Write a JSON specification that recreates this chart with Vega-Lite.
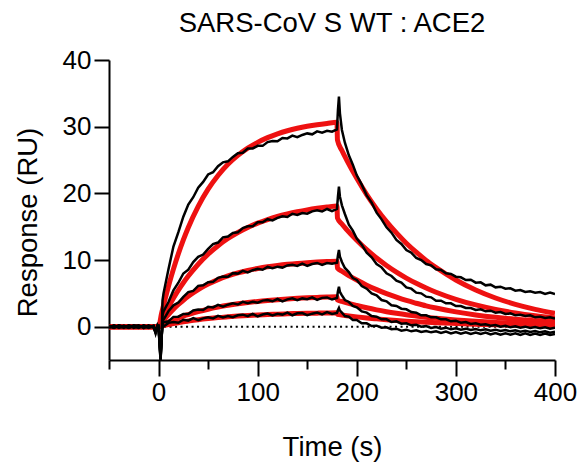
{
"$schema":"https://vega.github.io/schema/vega-lite/v6.json",
"width":446,"height":300,
"autosize":"none",
"padding":{"left":109,"top":60,"right":30,"bottom":103},
"title":{"text":"SARS-CoV S WT : ACE2","fontSize":27.5,"fontWeight":"normal","color":"black","anchor":"middle","baseline":"alphabetic","offset":14,"dy":26,"frame":"group","font":"Liberation Sans"},
"datasets":{
"rd":[
{"s":1,"t":-50,"v":0},{"s":1,"t":0,"v":0},{"s":1,"t":3,"v":1.96},{"s":1,"t":6,"v":3.79},{"s":1,"t":10,"v":6.06},{"s":1,"t":15,"v":8.63},{"s":1,"t":20,"v":10.94},{"s":1,"t":25,"v":13.01},{"s":1,"t":30,"v":14.88},{"s":1,"t":40,"v":18.05},{"s":1,"t":50,"v":20.62},{"s":1,"t":60,"v":22.68},{"s":1,"t":70,"v":24.35},{"s":1,"t":80,"v":25.69},{"s":1,"t":90,"v":26.78},{"s":1,"t":100,"v":27.65},{"s":1,"t":110,"v":28.36},{"s":1,"t":120,"v":28.93},{"s":1,"t":130,"v":29.39},{"s":1,"t":140,"v":29.76},{"s":1,"t":150,"v":30.06},{"s":1,"t":160,"v":30.30},{"s":1,"t":170,"v":30.49},{"s":1,"t":180,"v":30.65},
{"s":1,"t":180.5,"v":28.0},{"s":1,"t":185,"v":26.43},{"s":1,"t":190,"v":24.95},{"s":1,"t":200,"v":22.26},{"s":1,"t":210,"v":19.82},{"s":1,"t":220,"v":17.67},{"s":1,"t":230,"v":15.76},{"s":1,"t":240,"v":14.06},{"s":1,"t":250,"v":12.52},{"s":1,"t":260,"v":11.17},{"s":1,"t":270,"v":9.94},{"s":1,"t":280,"v":8.88},{"s":1,"t":300,"v":7.0},{"s":1,"t":320,"v":5.5},{"s":1,"t":340,"v":4.3},{"s":1,"t":360,"v":3.35},{"s":1,"t":380,"v":2.6},{"s":1,"t":400,"v":2.0},
{"s":2,"t":-50,"v":0},{"s":2,"t":0,"v":0},{"s":2,"t":3,"v":0.95},{"s":2,"t":6,"v":1.84},{"s":2,"t":10,"v":2.97},{"s":2,"t":15,"v":4.28},{"s":2,"t":20,"v":5.48},{"s":2,"t":25,"v":6.58},{"s":2,"t":30,"v":7.59},{"s":2,"t":40,"v":9.37},{"s":2,"t":50,"v":10.88},{"s":2,"t":60,"v":12.15},{"s":2,"t":70,"v":13.22},{"s":2,"t":80,"v":14.12},{"s":2,"t":90,"v":14.88},{"s":2,"t":100,"v":15.53},{"s":2,"t":110,"v":16.07},{"s":2,"t":120,"v":16.53},{"s":2,"t":130,"v":16.91},{"s":2,"t":140,"v":17.24},{"s":2,"t":150,"v":17.52},{"s":2,"t":160,"v":17.75},{"s":2,"t":170,"v":17.94},{"s":2,"t":180,"v":18.11},
{"s":2,"t":180.5,"v":16.3},{"s":2,"t":185,"v":15.39},{"s":2,"t":190,"v":14.52},{"s":2,"t":200,"v":12.96},{"s":2,"t":210,"v":11.54},{"s":2,"t":220,"v":10.29},{"s":2,"t":230,"v":9.18},{"s":2,"t":240,"v":8.18},{"s":2,"t":250,"v":7.29},{"s":2,"t":260,"v":6.50},{"s":2,"t":270,"v":5.79},{"s":2,"t":280,"v":5.17},{"s":2,"t":300,"v":4.11},{"s":2,"t":320,"v":3.26},{"s":2,"t":340,"v":2.59},{"s":2,"t":360,"v":2.05},{"s":2,"t":380,"v":1.63},{"s":2,"t":400,"v":1.30},
{"s":3,"t":-50,"v":0},{"s":3,"t":0,"v":0},{"s":3,"t":3,"v":0.59},{"s":3,"t":6,"v":1.14},{"s":3,"t":10,"v":1.83},{"s":3,"t":15,"v":2.62},{"s":3,"t":20,"v":3.33},{"s":3,"t":25,"v":3.97},{"s":3,"t":30,"v":4.56},{"s":3,"t":40,"v":5.56},{"s":3,"t":50,"v":6.38},{"s":3,"t":60,"v":7.06},{"s":3,"t":70,"v":7.61},{"s":3,"t":80,"v":8.06},{"s":3,"t":90,"v":8.43},{"s":3,"t":100,"v":8.73},{"s":3,"t":110,"v":8.98},{"s":3,"t":120,"v":9.18},{"s":3,"t":130,"v":9.35},{"s":3,"t":140,"v":9.49},{"s":3,"t":150,"v":9.60},{"s":3,"t":160,"v":9.69},{"s":3,"t":170,"v":9.76},{"s":3,"t":180,"v":9.82},
{"s":3,"t":180.5,"v":8.8},{"s":3,"t":185,"v":8.31},{"s":3,"t":190,"v":7.84},{"s":3,"t":200,"v":7.00},{"s":3,"t":210,"v":6.23},{"s":3,"t":220,"v":5.55},{"s":3,"t":230,"v":4.95},{"s":3,"t":240,"v":4.42},{"s":3,"t":250,"v":3.93},{"s":3,"t":260,"v":3.51},{"s":3,"t":270,"v":3.12},{"s":3,"t":280,"v":2.79},{"s":3,"t":300,"v":2.22},{"s":3,"t":320,"v":1.76},{"s":3,"t":340,"v":1.40},{"s":3,"t":360,"v":1.11},{"s":3,"t":380,"v":0.88},{"s":3,"t":400,"v":0.70},
{"s":4,"t":-50,"v":0},{"s":4,"t":0,"v":0},{"s":4,"t":3,"v":0.22},{"s":4,"t":6,"v":0.44},{"s":4,"t":10,"v":0.70},{"s":4,"t":15,"v":1.01},{"s":4,"t":20,"v":1.30},{"s":4,"t":25,"v":1.57},{"s":4,"t":30,"v":1.81},{"s":4,"t":40,"v":2.25},{"s":4,"t":50,"v":2.62},{"s":4,"t":60,"v":2.93},{"s":4,"t":70,"v":3.20},{"s":4,"t":80,"v":3.43},{"s":4,"t":90,"v":3.62},{"s":4,"t":100,"v":3.79},{"s":4,"t":110,"v":3.93},{"s":4,"t":120,"v":4.05},{"s":4,"t":130,"v":4.16},{"s":4,"t":140,"v":4.25},{"s":4,"t":150,"v":4.32},{"s":4,"t":160,"v":4.38},{"s":4,"t":170,"v":4.44},{"s":4,"t":180,"v":4.48},
{"s":4,"t":180.5,"v":4.0},{"s":4,"t":185,"v":3.78},{"s":4,"t":190,"v":3.56},{"s":4,"t":200,"v":3.18},{"s":4,"t":210,"v":2.83},{"s":4,"t":220,"v":2.52},{"s":4,"t":230,"v":2.25},{"s":4,"t":240,"v":2.01},{"s":4,"t":250,"v":1.79},{"s":4,"t":260,"v":1.60},{"s":4,"t":270,"v":1.42},{"s":4,"t":280,"v":1.27},{"s":4,"t":300,"v":1.01},{"s":4,"t":320,"v":0.80},{"s":4,"t":340,"v":0.64},{"s":4,"t":360,"v":0.50},{"s":4,"t":380,"v":0.40},{"s":4,"t":400,"v":0.32},
{"s":5,"t":-50,"v":0},{"s":5,"t":0,"v":0},{"s":5,"t":3,"v":0.10},{"s":5,"t":6,"v":0.20},{"s":5,"t":10,"v":0.32},{"s":5,"t":15,"v":0.47},{"s":5,"t":20,"v":0.60},{"s":5,"t":25,"v":0.73},{"s":5,"t":30,"v":0.84},{"s":5,"t":40,"v":1.04},{"s":5,"t":50,"v":1.21},{"s":5,"t":60,"v":1.36},{"s":5,"t":70,"v":1.48},{"s":5,"t":80,"v":1.59},{"s":5,"t":90,"v":1.68},{"s":5,"t":100,"v":1.75},{"s":5,"t":110,"v":1.82},{"s":5,"t":120,"v":1.88},{"s":5,"t":130,"v":1.93},{"s":5,"t":140,"v":1.97},{"s":5,"t":150,"v":2.00},{"s":5,"t":160,"v":2.03},{"s":5,"t":170,"v":2.06},{"s":5,"t":180,"v":2.08},
{"s":5,"t":180.5,"v":1.85},{"s":5,"t":185,"v":1.75},{"s":5,"t":190,"v":1.65},{"s":5,"t":200,"v":1.47},{"s":5,"t":210,"v":1.31},{"s":5,"t":220,"v":1.17},{"s":5,"t":230,"v":1.04},{"s":5,"t":240,"v":0.93},{"s":5,"t":250,"v":0.83},{"s":5,"t":260,"v":0.74},{"s":5,"t":270,"v":0.66},{"s":5,"t":280,"v":0.59},{"s":5,"t":300,"v":0.47},{"s":5,"t":320,"v":0.37},{"s":5,"t":340,"v":0.29},{"s":5,"t":360,"v":0.23},{"s":5,"t":380,"v":0.19},{"s":5,"t":400,"v":0.15}
],
"bk":[
{"s":1,"t":-50,"v":0.1},{"s":1,"t":-45,"v":-0.15},{"s":1,"t":-40,"v":0.2},{"s":1,"t":-35,"v":-0.05},{"s":1,"t":-30,"v":0.15},{"s":1,"t":-25,"v":-0.2},{"s":1,"t":-20,"v":0.1},{"s":1,"t":-15,"v":-0.1},{"s":1,"t":-10,"v":0.2},{"s":1,"t":-5,"v":-0.1},{"s":1,"t":-3,"v":-0.9},{"s":1,"t":-1,"v":0.2},{"s":1,"t":0,"v":0},{"s":1,"t":1,"v":-2.5},{"s":1,"t":2,"v":-5},{"s":1,"t":3,"v":-2.5},{"s":1,"t":4,"v":3.95},
{"s":1,"t":5,"v":4.97},{"s":1,"t":10,"v":8.6},{"s":1,"t":15,"v":12.03},{"s":1,"t":20,"v":14.17},{"s":1,"t":25,"v":16.49},{"s":1,"t":30,"v":18.32},{"s":1,"t":35,"v":19.42},{"s":1,"t":40,"v":20.86},{"s":1,"t":45,"v":21.71},{"s":1,"t":50,"v":22.83},{"s":1,"t":55,"v":23.16},{"s":1,"t":60,"v":24.06},{"s":1,"t":65,"v":24.65},{"s":1,"t":70,"v":24.8},{"s":1,"t":75,"v":25.46},{"s":1,"t":80,"v":26.01},{"s":1,"t":85,"v":26.08},{"s":1,"t":90,"v":26.72},{"s":1,"t":95,"v":26.73},{"s":1,"t":100,"v":27.12},{"s":1,"t":105,"v":27.12},{"s":1,"t":110,"v":27.69},{"s":1,"t":115,"v":27.85},{"s":1,"t":120,"v":27.8},{"s":1,"t":125,"v":28.31},{"s":1,"t":130,"v":28.24},{"s":1,"t":135,"v":28.65},{"s":1,"t":140,"v":28.42},{"s":1,"t":145,"v":28.76},{"s":1,"t":150,"v":28.99},{"s":1,"t":155,"v":28.85},{"s":1,"t":160,"v":29.29},{"s":1,"t":165,"v":29.11},{"s":1,"t":170,"v":29.37},{"s":1,"t":175,"v":29.24},{"s":1,"t":180,"v":29.6},
{"s":1,"t":181,"v":32.5},{"s":1,"t":182,"v":34.5},{"s":1,"t":183,"v":32.0},{"s":1,"t":185,"v":29.5},{"s":1,"t":188,"v":27.6},{"s":1,"t":192,"v":25.7},{"s":1,"t":196,"v":24.3},{"s":1,"t":200,"v":22.7},{"s":1,"t":205,"v":21.3},{"s":1,"t":210,"v":19.7},{"s":1,"t":215,"v":18.6},{"s":1,"t":220,"v":17.1},{"s":1,"t":225,"v":16.1},{"s":1,"t":230,"v":14.9},{"s":1,"t":235,"v":14.1},{"s":1,"t":240,"v":13.0},{"s":1,"t":245,"v":12.4},{"s":1,"t":250,"v":11.5},{"s":1,"t":255,"v":11.1},{"s":1,"t":260,"v":10.3},{"s":1,"t":265,"v":10.0},{"s":1,"t":270,"v":9.4},{"s":1,"t":275,"v":9.2},{"s":1,"t":280,"v":8.6},{"s":1,"t":285,"v":8.5},{"s":1,"t":290,"v":8.0},{"s":1,"t":295,"v":7.9},{"s":1,"t":300,"v":7.5},{"s":1,"t":305,"v":7.4},{"s":1,"t":310,"v":7.0},{"s":1,"t":315,"v":7.05},{"s":1,"t":320,"v":6.6},{"s":1,"t":325,"v":6.65},{"s":1,"t":330,"v":6.2},{"s":1,"t":335,"v":6.3},{"s":1,"t":340,"v":5.9},{"s":1,"t":345,"v":6.0},{"s":1,"t":350,"v":5.7},{"s":1,"t":355,"v":5.75},{"s":1,"t":360,"v":5.4},{"s":1,"t":365,"v":5.5},{"s":1,"t":370,"v":5.2},{"s":1,"t":375,"v":5.3},{"s":1,"t":380,"v":5.1},{"s":1,"t":385,"v":5.2},{"s":1,"t":390,"v":4.9},{"s":1,"t":395,"v":5.1},{"s":1,"t":400,"v":4.9},
{"s":2,"t":-50,"v":-0.1},{"s":2,"t":-45,"v":0.15},{"s":2,"t":-40,"v":-0.2},{"s":2,"t":-35,"v":0.1},{"s":2,"t":-30,"v":-0.1},{"s":2,"t":-25,"v":0.2},{"s":2,"t":-20,"v":-0.15},{"s":2,"t":-15,"v":0.15},{"s":2,"t":-10,"v":-0.05},{"s":2,"t":-5,"v":0.1},{"s":2,"t":-3,"v":-0.7},{"s":2,"t":-1,"v":0.1},{"s":2,"t":0,"v":0.1},{"s":2,"t":1,"v":-2.2},{"s":2,"t":2,"v":-4.8},{"s":2,"t":3,"v":-2.2},{"s":2,"t":4,"v":1.7},
{"s":2,"t":5,"v":2.27},{"s":2,"t":10,"v":3.7},{"s":2,"t":15,"v":5.44},{"s":2,"t":20,"v":6.59},{"s":2,"t":25,"v":7.98},{"s":2,"t":30,"v":8.55},{"s":2,"t":35,"v":9.68},{"s":2,"t":40,"v":10.47},{"s":2,"t":45,"v":10.82},{"s":2,"t":50,"v":11.67},{"s":2,"t":55,"v":12.38},{"s":2,"t":60,"v":12.62},{"s":2,"t":65,"v":13.4},{"s":2,"t":70,"v":13.52},{"s":2,"t":75,"v":14.04},{"s":2,"t":80,"v":14.15},{"s":2,"t":85,"v":14.8},{"s":2,"t":90,"v":15.05},{"s":2,"t":95,"v":15.07},{"s":2,"t":100,"v":15.66},{"s":2,"t":105,"v":15.65},{"s":2,"t":110,"v":16.12},{"s":2,"t":115,"v":15.94},{"s":2,"t":120,"v":16.31},{"s":2,"t":125,"v":16.57},{"s":2,"t":130,"v":16.46},{"s":2,"t":135,"v":16.93},{"s":2,"t":140,"v":16.77},{"s":2,"t":145,"v":17.04},{"s":2,"t":150,"v":16.94},{"s":2,"t":155,"v":17.3},{"s":2,"t":160,"v":17.45},{"s":2,"t":165,"v":17.27},{"s":2,"t":170,"v":17.65},{"s":2,"t":175,"v":17.33},{"s":2,"t":180,"v":17.65},
{"s":2,"t":181,"v":19.5},{"s":2,"t":182,"v":21.0},{"s":2,"t":183,"v":19.5},{"s":2,"t":185,"v":18.2},{"s":2,"t":188,"v":16.9},{"s":2,"t":192,"v":15.3},{"s":2,"t":196,"v":14.4},{"s":2,"t":200,"v":13.2},{"s":2,"t":205,"v":12.3},{"s":2,"t":210,"v":11.1},{"s":2,"t":215,"v":10.4},{"s":2,"t":220,"v":9.4},{"s":2,"t":225,"v":8.9},{"s":2,"t":230,"v":8.0},{"s":2,"t":235,"v":7.6},{"s":2,"t":240,"v":6.9},{"s":2,"t":245,"v":6.6},{"s":2,"t":250,"v":5.9},{"s":2,"t":255,"v":5.7},{"s":2,"t":260,"v":5.1},{"s":2,"t":265,"v":5.0},{"s":2,"t":270,"v":4.5},{"s":2,"t":275,"v":4.4},{"s":2,"t":280,"v":3.9},{"s":2,"t":285,"v":3.9},{"s":2,"t":290,"v":3.5},{"s":2,"t":295,"v":3.5},{"s":2,"t":300,"v":3.1},{"s":2,"t":305,"v":3.1},{"s":2,"t":310,"v":2.8},{"s":2,"t":315,"v":2.8},{"s":2,"t":320,"v":2.5},{"s":2,"t":325,"v":2.6},{"s":2,"t":330,"v":2.3},{"s":2,"t":335,"v":2.4},{"s":2,"t":340,"v":2.1},{"s":2,"t":345,"v":2.2},{"s":2,"t":350,"v":1.9},{"s":2,"t":355,"v":2.0},{"s":2,"t":360,"v":1.7},{"s":2,"t":365,"v":1.8},{"s":2,"t":370,"v":1.6},{"s":2,"t":375,"v":1.7},{"s":2,"t":380,"v":1.4},{"s":2,"t":385,"v":1.5},{"s":2,"t":390,"v":1.3},{"s":2,"t":395,"v":1.4},{"s":2,"t":400,"v":1.2},
{"s":3,"t":-50,"v":0.2},{"s":3,"t":-45,"v":-0.1},{"s":3,"t":-40,"v":0.05},{"s":3,"t":-35,"v":-0.2},{"s":3,"t":-30,"v":0.2},{"s":3,"t":-25,"v":0.0},{"s":3,"t":-20,"v":-0.2},{"s":3,"t":-15,"v":0.2},{"s":3,"t":-10,"v":-0.15},{"s":3,"t":-5,"v":0.05},{"s":3,"t":-3,"v":-1.0},{"s":3,"t":-1,"v":0.2},{"s":3,"t":0,"v":-0.1},{"s":3,"t":1,"v":-2.6},{"s":3,"t":2,"v":-5},{"s":3,"t":3,"v":-2.0},{"s":3,"t":4,"v":0.99},
{"s":3,"t":5,"v":1.03},{"s":3,"t":10,"v":2.31},{"s":3,"t":15,"v":3.2},{"s":3,"t":20,"v":3.61},{"s":3,"t":25,"v":4.46},{"s":3,"t":30,"v":5.18},{"s":3,"t":35,"v":5.37},{"s":3,"t":40,"v":6.12},{"s":3,"t":45,"v":6.21},{"s":3,"t":50,"v":6.67},{"s":3,"t":55,"v":6.72},{"s":3,"t":60,"v":7.33},{"s":3,"t":65,"v":7.53},{"s":3,"t":70,"v":7.49},{"s":3,"t":75,"v":8.03},{"s":3,"t":80,"v":7.96},{"s":3,"t":85,"v":8.37},{"s":3,"t":90,"v":8.14},{"s":3,"t":95,"v":8.47},{"s":3,"t":100,"v":8.68},{"s":3,"t":105,"v":8.54},{"s":3,"t":110,"v":8.96},{"s":3,"t":115,"v":8.77},{"s":3,"t":120,"v":9.0},{"s":3,"t":125,"v":8.86},{"s":3,"t":130,"v":9.18},{"s":3,"t":135,"v":9.29},{"s":3,"t":140,"v":9.11},{"s":3,"t":145,"v":9.45},{"s":3,"t":150,"v":9.1},{"s":3,"t":155,"v":9.39},{"s":3,"t":160,"v":9.56},{"s":3,"t":165,"v":9.26},{"s":3,"t":170,"v":9.54},{"s":3,"t":175,"v":9.43},{"s":3,"t":180,"v":9.6},
{"s":3,"t":181,"v":10.7},{"s":3,"t":182,"v":11.5},{"s":3,"t":183,"v":10.5},{"s":3,"t":185,"v":9.7},{"s":3,"t":188,"v":8.8},{"s":3,"t":192,"v":8.2},{"s":3,"t":196,"v":7.3},{"s":3,"t":200,"v":7.0},{"s":3,"t":205,"v":6.1},{"s":3,"t":210,"v":5.7},{"s":3,"t":215,"v":5.0},{"s":3,"t":220,"v":4.7},{"s":3,"t":225,"v":4.0},{"s":3,"t":230,"v":3.8},{"s":3,"t":235,"v":3.2},{"s":3,"t":240,"v":3.1},{"s":3,"t":245,"v":2.7},{"s":3,"t":250,"v":2.6},{"s":3,"t":255,"v":2.2},{"s":3,"t":260,"v":2.1},{"s":3,"t":265,"v":1.7},{"s":3,"t":270,"v":1.7},{"s":3,"t":275,"v":1.4},{"s":3,"t":280,"v":1.4},{"s":3,"t":285,"v":1.1},{"s":3,"t":290,"v":1.1},{"s":3,"t":295,"v":0.8},{"s":3,"t":300,"v":0.9},{"s":3,"t":305,"v":0.6},{"s":3,"t":310,"v":0.7},{"s":3,"t":315,"v":0.4},{"s":3,"t":320,"v":0.5},{"s":3,"t":325,"v":0.3},{"s":3,"t":330,"v":0.35},{"s":3,"t":335,"v":0.15},{"s":3,"t":340,"v":0.25},{"s":3,"t":345,"v":0.0},{"s":3,"t":350,"v":0.15},{"s":3,"t":355,"v":-0.1},{"s":3,"t":360,"v":0.05},{"s":3,"t":365,"v":-0.15},{"s":3,"t":370,"v":0.0},{"s":3,"t":375,"v":-0.2},{"s":3,"t":380,"v":-0.05},{"s":3,"t":385,"v":-0.25},{"s":3,"t":390,"v":-0.1},{"s":3,"t":395,"v":-0.3},{"s":3,"t":400,"v":-0.15},
{"s":4,"t":-50,"v":-0.2},{"s":4,"t":-45,"v":0.2},{"s":4,"t":-40,"v":-0.1},{"s":4,"t":-35,"v":0.15},{"s":4,"t":-30,"v":-0.15},{"s":4,"t":-25,"v":0.1},{"s":4,"t":-20,"v":0.2},{"s":4,"t":-15,"v":-0.2},{"s":4,"t":-10,"v":0.1},{"s":4,"t":-5,"v":-0.15},{"s":4,"t":-3,"v":-0.8},{"s":4,"t":-1,"v":0.0},{"s":4,"t":0,"v":0.1},{"s":4,"t":1,"v":-2.3},{"s":4,"t":2,"v":-4.5},{"s":4,"t":3,"v":-1.8},{"s":4,"t":4,"v":0.41},
{"s":4,"t":5,"v":0.66},{"s":4,"t":10,"v":0.8},{"s":4,"t":15,"v":1.47},{"s":4,"t":20,"v":1.5},{"s":4,"t":25,"v":1.9},{"s":4,"t":30,"v":1.89},{"s":4,"t":35,"v":2.44},{"s":4,"t":40,"v":2.58},{"s":4,"t":45,"v":2.5},{"s":4,"t":50,"v":2.98},{"s":4,"t":55,"v":2.88},{"s":4,"t":60,"v":3.26},{"s":4,"t":65,"v":2.99},{"s":4,"t":70,"v":3.3},{"s":4,"t":75,"v":3.49},{"s":4,"t":80,"v":3.32},{"s":4,"t":85,"v":3.73},{"s":4,"t":90,"v":3.51},{"s":4,"t":95,"v":3.74},{"s":4,"t":100,"v":3.59},{"s":4,"t":105,"v":3.91},{"s":4,"t":110,"v":4.01},{"s":4,"t":115,"v":3.81},{"s":4,"t":120,"v":4.15},{"s":4,"t":125,"v":3.8},{"s":4,"t":130,"v":4.09},{"s":4,"t":135,"v":4.25},{"s":4,"t":140,"v":3.97},{"s":4,"t":145,"v":4.24},{"s":4,"t":150,"v":4.12},{"s":4,"t":155,"v":4.41},{"s":4,"t":160,"v":4.03},{"s":4,"t":165,"v":4.32},{"s":4,"t":170,"v":4.38},{"s":4,"t":175,"v":4.07},{"s":4,"t":180,"v":4.3},
{"s":4,"t":181,"v":5.3},{"s":4,"t":182,"v":6.0},{"s":4,"t":183,"v":5.2},{"s":4,"t":185,"v":4.7},{"s":4,"t":188,"v":4.0},{"s":4,"t":192,"v":3.7},{"s":4,"t":196,"v":3.1},{"s":4,"t":200,"v":2.9},{"s":4,"t":205,"v":2.3},{"s":4,"t":210,"v":2.1},{"s":4,"t":215,"v":1.6},{"s":4,"t":220,"v":1.5},{"s":4,"t":225,"v":1.1},{"s":4,"t":230,"v":1.1},{"s":4,"t":235,"v":0.7},{"s":4,"t":240,"v":0.8},{"s":4,"t":245,"v":0.45},{"s":4,"t":250,"v":0.5},{"s":4,"t":255,"v":0.2},{"s":4,"t":260,"v":0.3},{"s":4,"t":265,"v":0.0},{"s":4,"t":270,"v":0.1},{"s":4,"t":275,"v":-0.2},{"s":4,"t":280,"v":-0.05},{"s":4,"t":285,"v":-0.3},{"s":4,"t":290,"v":-0.15},{"s":4,"t":295,"v":-0.4},{"s":4,"t":300,"v":-0.25},{"s":4,"t":305,"v":-0.45},{"s":4,"t":310,"v":-0.3},{"s":4,"t":315,"v":-0.5},{"s":4,"t":320,"v":-0.35},{"s":4,"t":325,"v":-0.55},{"s":4,"t":330,"v":-0.4},{"s":4,"t":335,"v":-0.6},{"s":4,"t":340,"v":-0.45},{"s":4,"t":345,"v":-0.65},{"s":4,"t":350,"v":-0.5},{"s":4,"t":355,"v":-0.7},{"s":4,"t":360,"v":-0.55},{"s":4,"t":365,"v":-0.75},{"s":4,"t":370,"v":-0.6},{"s":4,"t":375,"v":-0.8},{"s":4,"t":380,"v":-0.65},{"s":4,"t":385,"v":-0.85},{"s":4,"t":390,"v":-0.7},{"s":4,"t":395,"v":-0.9},{"s":4,"t":400,"v":-0.75},
{"s":5,"t":-50,"v":0.05},{"s":5,"t":-45,"v":-0.2},{"s":5,"t":-40,"v":0.15},{"s":5,"t":-35,"v":0.0},{"s":5,"t":-30,"v":-0.2},{"s":5,"t":-25,"v":0.15},{"s":5,"t":-20,"v":-0.05},{"s":5,"t":-15,"v":0.1},{"s":5,"t":-10,"v":-0.2},{"s":5,"t":-5,"v":0.15},{"s":5,"t":-3,"v":-0.6},{"s":5,"t":-1,"v":0.1},{"s":5,"t":0,"v":0.0},{"s":5,"t":1,"v":-2.0},{"s":5,"t":2,"v":-4.2},{"s":5,"t":3,"v":-1.5},{"s":5,"t":4,"v":0.19},
{"s":5,"t":5,"v":0.03},{"s":5,"t":10,"v":0.57},{"s":5,"t":15,"v":0.69},{"s":5,"t":20,"v":0.58},{"s":5,"t":25,"v":1.04},{"s":5,"t":30,"v":0.91},{"s":5,"t":35,"v":1.27},{"s":5,"t":40,"v":0.97},{"s":5,"t":45,"v":1.25},{"s":5,"t":50,"v":1.42},{"s":5,"t":55,"v":1.23},{"s":5,"t":60,"v":1.61},{"s":5,"t":65,"v":1.37},{"s":5,"t":70,"v":1.59},{"s":5,"t":75,"v":1.41},{"s":5,"t":80,"v":1.71},{"s":5,"t":85,"v":1.8},{"s":5,"t":90,"v":1.58},{"s":5,"t":95,"v":1.91},{"s":5,"t":100,"v":1.54},{"s":5,"t":105,"v":1.82},{"s":5,"t":110,"v":1.97},{"s":5,"t":115,"v":1.67},{"s":5,"t":120,"v":1.94},{"s":5,"t":125,"v":1.81},{"s":5,"t":130,"v":2.1},{"s":5,"t":135,"v":1.71},{"s":5,"t":140,"v":2.0},{"s":5,"t":145,"v":2.05},{"s":5,"t":150,"v":1.72},{"s":5,"t":155,"v":1.95},{"s":5,"t":160,"v":2.12},{"s":5,"t":165,"v":1.85},{"s":5,"t":170,"v":2.18},{"s":5,"t":175,"v":1.92},{"s":5,"t":180,"v":2.05},
{"s":5,"t":181,"v":2.5},{"s":5,"t":182,"v":2.8},{"s":5,"t":183,"v":2.4},{"s":5,"t":185,"v":2.1},{"s":5,"t":188,"v":1.6},{"s":5,"t":192,"v":1.5},{"s":5,"t":196,"v":1.0},{"s":5,"t":200,"v":1.0},{"s":5,"t":205,"v":0.5},{"s":5,"t":210,"v":0.5},{"s":5,"t":215,"v":0.1},{"s":5,"t":220,"v":0.15},{"s":5,"t":225,"v":-0.15},{"s":5,"t":230,"v":-0.1},{"s":5,"t":235,"v":-0.4},{"s":5,"t":240,"v":-0.3},{"s":5,"t":245,"v":-0.6},{"s":5,"t":250,"v":-0.45},{"s":5,"t":255,"v":-0.7},{"s":5,"t":260,"v":-0.55},{"s":5,"t":265,"v":-0.8},{"s":5,"t":270,"v":-0.65},{"s":5,"t":275,"v":-0.85},{"s":5,"t":280,"v":-0.7},{"s":5,"t":285,"v":-0.95},{"s":5,"t":290,"v":-0.75},{"s":5,"t":295,"v":-1.0},{"s":5,"t":300,"v":-0.8},{"s":5,"t":305,"v":-1.05},{"s":5,"t":310,"v":-0.85},{"s":5,"t":315,"v":-1.1},{"s":5,"t":320,"v":-0.9},{"s":5,"t":325,"v":-1.1},{"s":5,"t":330,"v":-0.9},{"s":5,"t":335,"v":-1.15},{"s":5,"t":340,"v":-0.95},{"s":5,"t":345,"v":-1.2},{"s":5,"t":350,"v":-1.0},{"s":5,"t":355,"v":-1.2},{"s":5,"t":360,"v":-1.0},{"s":5,"t":365,"v":-1.25},{"s":5,"t":370,"v":-1.0},{"s":5,"t":375,"v":-1.25},{"s":5,"t":380,"v":-1.05},{"s":5,"t":385,"v":-1.25},{"s":5,"t":390,"v":-1.05},{"s":5,"t":395,"v":-1.25},{"s":5,"t":400,"v":-1.1}
]
},
"encoding":{
"x":{"field":"t","type":"quantitative","title":"Time (s)","scale":{"domain":[-50,400],"nice":false,"zero":false},
"axis":{"values":[-50,0,50,100,150,200,250,300,350,400],"labelExpr":"datum.value % 100 === 0 ? datum.label : ''","tickSize":{"condition":{"test":"datum.value % 100 === 0","value":16},"value":9},"labelPadding":3,"labelFlush":false,"labelOverlap":false,"titleBaseline":"alphabetic","titleY":95,"titleFontSize":27.5}},
"y":{"field":"v","type":"quantitative","title":"Response (RU)","scale":{"domain":[-5,40],"nice":false,"zero":false},
"axis":{"values":[0,10,20,30,40],"tickSize":15,"labelPadding":3,"labelFlush":false,"titleX":-67,"titleY":162,"titleBaseline":"bottom","titleFontSize":27.5}}
},
"layer":[
{"data":{"values":[{"t":0,"t2":400,"v":0}]},"mark":{"type":"rule","strokeDash":[2,3.5],"strokeWidth":2,"color":"black"},"encoding":{"x2":{"field":"t2"}}},
{"data":{"name":"rd"},"mark":{"type":"line","color":"#ee1111","strokeWidth":5,"interpolate":"monotone","clip":true},"encoding":{"detail":{"field":"s","type":"nominal"}}},
{"data":{"name":"bk"},"mark":{"type":"line","color":"black","strokeWidth":2.5,"clip":true},"encoding":{"detail":{"field":"s","type":"nominal"}}}
],
"config":{"view":{"stroke":null},"font":"Liberation Sans",
"axis":{"domainColor":"black","domainWidth":2,"tickColor":"black","tickWidth":2,"labelColor":"black","labelFontSize":26,"titleFontSize":26,"titleFontWeight":"normal","titleColor":"black","grid":false,"labelFont":"Liberation Sans","titleFont":"Liberation Sans"}}
}
